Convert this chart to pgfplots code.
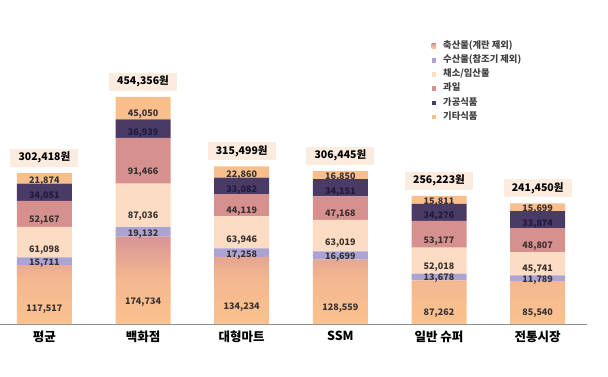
\documentclass[border=0pt]{standalone}
\usepackage{pgfplots}
\pgfplotsset{compat=1.18}
\usepackage{pgfplotstable}
\usepackage{fontspec}
\setmainfont{Noto Sans CJK KR}
\definecolor{cMeat1}{HTML}{D79595}
\definecolor{cMeatM}{HTML}{F4B890}
\definecolor{cMeat2}{HTML}{F9C28E}
\definecolor{cFish}{HTML}{ABA4D2}
\definecolor{cVeg}{HTML}{FCDCC2}
\definecolor{cFruit}{HTML}{D6918F}
\definecolor{cProc}{HTML}{4A3B66}
\definecolor{cEtc}{HTML}{F8BE8C}
\definecolor{cBox}{HTML}{FCEBDF}
\definecolor{cTxt}{HTML}{3A3232}
\definecolor{cTxtD}{HTML}{1E1A3C}
\definecolor{cLeg}{HTML}{404040}
\definecolor{cAxis}{HTML}{8C8C8C}

\pgfplotstableread{
x meat fish veg fruit proc etc total
0 117517 15711 61098 52167 34051 21874 302418
1 174734 19132 87036 91466 36939 45050 454356
2 134234 17258 63946 44119 33082 22860 315499
3 128559 16699 63019 47168 34151 16850 306445
4 87262 13678 52018 53177 34276 15811 256223
5 85540 11789 45741 48807 33874 15699 241450
}\data

\pgfplotsset{
  seg/.style={draw=none,
    nodes near coords={\pgfmathprintnumber{\pgfplotspointmeta}},
    point meta=explicit,
    every node near coord/.append style={anchor=center,
      font=\bfseries\fontsize{9}{9}\selectfont, text=cTxt, inner sep=0pt,
      /utils/exec={\pgfkeys{/pgf/fpu=true,/pgf/fpu/output format=fixed}\pgfmathparse{-\pgfplotspointmeta/8000}\global\let\myshift\pgfmathresult\pgfkeys{/pgf/fpu=false}},
      yshift=\myshift pt}},
  base/.style={at={(0pt,0pt)}, anchor=south west,
    scale only axis, width=587pt, height=294pt,
    xmin=-0.45, xmax=5.5, ymin=0, ymax=588000, clip=false,
    /pgf/number format/fixed,
    /pgf/number format/precision=0,
    /pgf/number format/1000 sep={,},
    /pgf/number format/assume math mode=true},
}

\begin{document}
\begin{tikzpicture}
\useasboundingbox (0pt,-52pt) rectangle (608pt,324pt);
\begin{axis}[
  base,
  ybar stacked, bar width=55pt,
  hide y axis,
  axis x line*=bottom,
  axis line style={draw=cAxis, line width=0.8pt, -},
  xtick={0,1,2,3,4,5},
  xticklabels={평균,백화점,대형마트,SSM,일반 슈퍼,전통시장},
  xtick style={draw=none},
  xticklabel style={font=\bfseries\fontsize{12.5}{12.5}\selectfont, text=black, yshift=-3pt},
  legend style={at={(axis description cs:0.735,0.959)}, anchor=north west,
    draw=none, fill=none, inner sep=0pt, row sep=6.7pt,
    font=\bfseries\fontsize{9.3}{9.3}\selectfont, text=cLeg,
    nodes={inner sep=0pt, text height=6pt, text depth=1.5pt}},
  legend cell align=left,
  legend image code/.code={\fill[#1] (0pt,-2.3pt) rectangle (4.6pt,2.3pt);},
  /tikz/every odd column/.append style={column sep=7pt},
]
\addplot[seg, top color=cMeat1, bottom color=cMeat2, middle color=cMeatM] table[x=x, y=meat, meta=meat]{\data};
\addplot[seg, fill=cFish] table[x=x, y=fish, meta=fish]{\data};
\addplot[seg, fill=cVeg] table[x=x, y=veg, meta=veg]{\data};
\addplot[seg, fill=cFruit] table[x=x, y=fruit, meta=fruit]{\data};
\addplot[seg, fill=cProc, every node near coord/.append style={text=cTxtD}] table[x=x, y=proc, meta=proc]{\data};
\addplot[seg, fill=cEtc] table[x=x, y=etc, meta=etc]{\data};
\legend{축산물(계란 제외),수산물(참조기 제외),채소/임산물,과일,가공식품,기타식품}
\end{axis}
\begin{axis}[base, hide axis]
\addplot[draw=none, mark=none,
  nodes near coords={\pgfmathprintnumber{\pgfplotspointmeta}원},
  point meta=explicit,
  every node near coord/.append style={anchor=south, yshift=6pt, fill=cBox,
    minimum width=68pt, minimum height=18pt, inner sep=0pt,
    font=\bfseries\fontsize{10.5}{10.5}\selectfont, text=black}]
  table[x=x, y=total, meta=total]{\data};
\end{axis}
\end{tikzpicture}
\end{document}
